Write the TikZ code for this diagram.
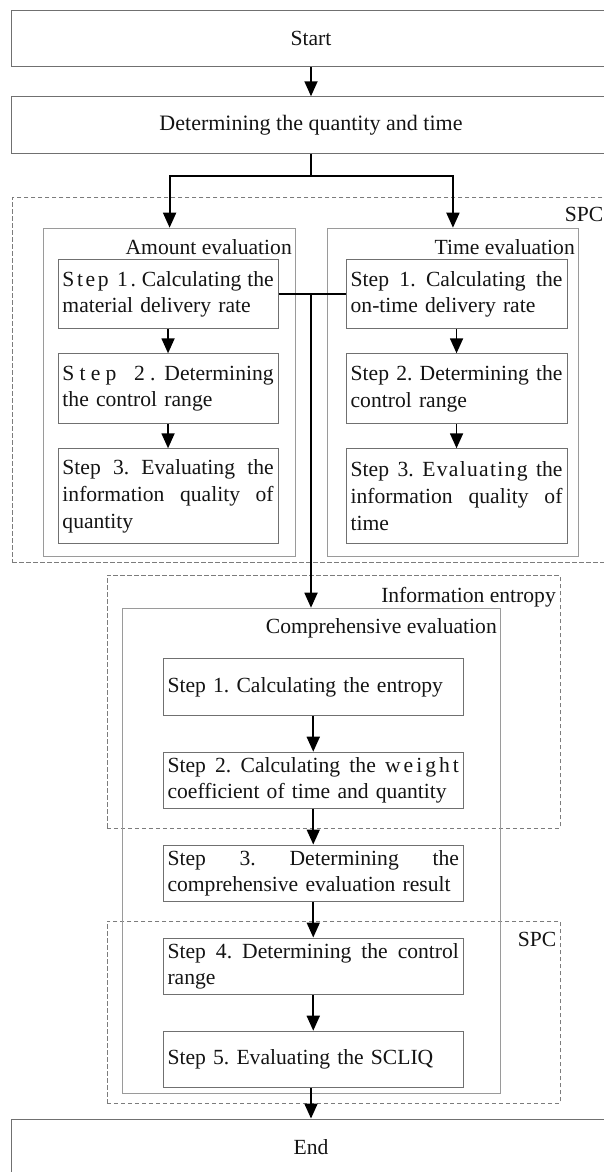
\documentclass[tikz,border=0pt]{standalone}
\usepackage{fontspec}
\setmainfont{Liberation Serif}
\usetikzlibrary{arrows.meta}
\newcommand{\stretchln}[2]{{\spaceskip=0pt\xspaceskip=0pt\makebox[#1][s]{#2}}}
\newcommand{\lsp}[2]{{\addfontfeature{LetterSpace=#1}#2}}
\definecolor{boxgray}{HTML}{707070}
\definecolor{grpgray}{HTML}{9A9A9A}
\definecolor{dashgray}{HTML}{7C7C7C}
\definecolor{txt}{HTML}{141414}
\begin{document}
\frenchspacing
\begin{tikzpicture}[x=1pt,y=-1pt,
  font=\fontsize{21.6}{26.7}\selectfont\frenchspacing, text=txt,
  bar/.style={draw=boxgray, line width=0.9pt, minimum width=599pt, minimum height=56.6pt, inner sep=0pt},
  stepbox/.style={draw=boxgray, line width=0.9pt, fill=white, anchor=north west, inner xsep=4.5pt, inner ysep=0pt, align=left},
  grp/.style={draw=grpgray, line width=0.9pt, anchor=north west, inner sep=0pt},
  dashbox/.style={draw=dashgray, line width=0.7pt, dash pattern=on 4.5pt off 2.5pt, anchor=north west, inner sep=0pt},
  arr/.style={-{Triangle[width=13pt,length=15pt]}, line width=1.8pt},
  ln/.style={line width=1.8pt},
  lbl/.style={inner sep=0pt}]
\useasboundingbox (0,0) rectangle (604,1172);
\clip (0,0) rectangle (604,1172);

% top and bottom bars
\node[bar] (start) at (311,38.35) {Start};
\node[bar] (det) at (311,125) {\fontsize{22}{26.7}\selectfont Determining the quantity and time};
\node[bar] (end) at (311,1147.3) {End};

% dashed regions
\node[dashbox, minimum width=620pt, minimum height=365pt] (spc1) at (12,197) {};
\node[dashbox, minimum width=453pt, minimum height=253pt] (info) at (106.5,575) {};
\node[dashbox, minimum width=453pt, minimum height=182.5pt] (spc2) at (106.5,920.5) {};

% group boxes
\node[grp, minimum width=251.7pt, minimum height=328.3pt] (amount) at (43.3,227.7) {};
\node[grp, minimum width=251pt, minimum height=328.3pt] (time) at (327,227.7) {};
\node[grp, minimum width=377.2pt, minimum height=485.3pt] (comp) at (122.3,607.7) {};

% labels
\node[lbl, anchor=base east] (spclbl1) at (603.5,221) {SPC};
\node[lbl, anchor=base east] (amtlbl) at (292,254) {Amount evaluation};
\node[lbl, anchor=base east] (timelbl) at (575,254) {Time evaluation};
\node[lbl, anchor=base east] (infolbl) at (556,602) {Information entropy};
\node[lbl, anchor=base east] (complbl) at (497,633.5) {Comprehensive evaluation};
\node[lbl, anchor=base east] (spclbl2) at (556.5,946.5) {SPC};

% amount steps
\node[stepbox, text width=211.2pt, minimum height=69pt] (a1) at (57.5,259.3)
  {\stretchln{211.2pt}{\lsp{12}{Step 1.} Calculating the}\\material delivery rate};
\node[stepbox, text width=211.2pt, minimum height=70pt] (a2) at (57.5,353.3)
  {\stretchln{211.2pt}{\lsp{24}{Step 2.} Determining}\\the control range};
\node[stepbox, text width=211.2pt, minimum height=95pt] (a3) at (57.5,448.3)
  {\stretchln{211.2pt}{Step 3. Evaluating the}\\\stretchln{211.2pt}{information quality of}\\quantity};

% time steps
\node[stepbox, text width=211.8pt, minimum height=69pt] (t1) at (345.7,259.3)
  {\stretchln{211.8pt}{Step 1. Calculating the}\\on-time delivery rate};
\node[stepbox, text width=211.8pt, minimum height=70pt] (t2) at (345.7,353.3)
  {\stretchln{211.8pt}{Step 2. Determining the}\\control range};
\node[stepbox, text width=211.8pt, minimum height=95pt] (t3) at (345.7,448.3)
  {\stretchln{211.8pt}{Step 3. \lsp{6}{Evaluating} the}\\\stretchln{211.8pt}{information quality of}\\time};

% comprehensive steps
\node[stepbox, text width=291.4pt, minimum height=56.7pt] (c1) at (162.6,658.3)
  {Step 1. Calculating the entropy};
\node[stepbox, text width=291.4pt, minimum height=56.6pt] (c2) at (162.6,751.7)
  {\stretchln{291.4pt}{Step 2. Calculating the \lsp{14}{weight}}\\coefficient of time and quantity};
\node[stepbox, text width=291.4pt, minimum height=56.5pt] (c3) at (162.6,844.5)
  {\stretchln{291.4pt}{Step 3. Determining the}\\comprehensive evaluation result};
\node[stepbox, text width=291.4pt, minimum height=56.5pt] (c4) at (162.6,937.5)
  {\stretchln{291.4pt}{Step 4. Determining the control}\\range};
\node[stepbox, text width=291.4pt, minimum height=56.6pt] (c5) at (162.6,1030.7)
  {Step 5. Evaluating the SCLIQ};

% connectors
\coordinate (br) at (311,176);
\coordinate (jn) at (311,293.8);
\draw[arr] (start) -- (det);
\draw[ln] (det.south) -- (br);
\draw[arr] (br) -| (amount.north);
\draw[arr] (br) -| (time.north);
\draw[arr] (a1) -- (a2);
\draw[arr] (a2) -- (a3);
\draw[arr] (t1) -- (t2);
\draw[arr] (t2) -- (t3);
\draw[ln] (a1.east) -- (t1.west);
\draw[arr] (jn) -- (jn |- comp.north);
\draw[arr] (c1) -- (c2);
\draw[arr] (c2) -- (c3);
\draw[arr] (c3) -- (c4);
\draw[arr] (c4) -- (c5);
\draw[arr] (c5.south -| end.north) -- (end.north);
\end{tikzpicture}
\end{document}
